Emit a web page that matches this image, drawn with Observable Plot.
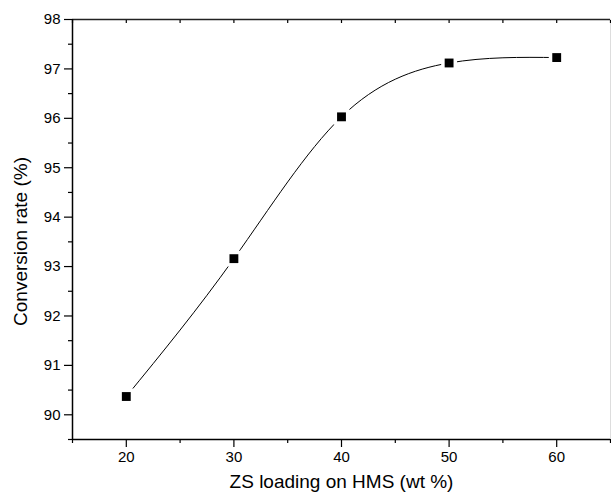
<!DOCTYPE html>
<html><head><meta charset="utf-8">
<script src="https://cdn.jsdelivr.net/npm/d3@7"></script>
<script src="https://cdn.jsdelivr.net/npm/@observablehq/plot@0.6"></script>
<style>body{margin:0;background:#fff;font-family:"Liberation Sans",Arial,sans-serif}</style>
</head><body><div id="chart"></div>
<script>
const loading = [20, 30, 40, 50, 60];
const conversion = [90.37, 93.16, 96.03, 97.12, 97.23];
const xTicks = [20, 30, 40, 50, 60];
const xMinor = [15, 25, 35, 45, 55, 65];
const yTicks = [90, 91, 92, 93, 94, 95, 96, 97, 98];
const yMinor = [89.5, 90.5, 91.5, 92.5, 93.5, 94.5, 95.5, 96.5, 97.5];
const data = loading.map((x, i) => ({x, y: conversion[i]}));

const chart = Plot.plot({
  width: 611, height: 497,
  marginLeft: 72, marginTop: 19, marginRight: 1, marginBottom: 58,
  style: {fontFamily: "Liberation Sans, Arial, sans-serif", fontSize: "15px", color: "#000", background: "#fff"},
  x: {domain: [15, 65]},
  y: {domain: [89.5, 98]},
  marks: [
    Plot.ruleY([98], {stroke: "#222", strokeWidth: 1.5}),
    Plot.ruleX([65], {stroke: "#ddd", strokeWidth: 1}),
    Plot.axisX({anchor: "top", ticks: xMinor.concat(xTicks), tickSize: -3, tickFormat: () => "", label: null, strokeWidth: 1.2}),
    Plot.axisX({ticks: xTicks, tickSize: 8, tickPadding: 4, fontSize: 15, label: null, strokeWidth: 1.2}),
    Plot.axisX({ticks: xMinor, tickSize: 4, tickFormat: () => "", label: null, strokeWidth: 1.2}),
    Plot.axisY({ticks: yTicks, tickSize: 8, tickPadding: 4, fontSize: 15, label: null, strokeWidth: 1.2}),
    Plot.axisY({ticks: yMinor, tickSize: 4, tickFormat: () => "", label: null, strokeWidth: 1.2}),
    Plot.ruleY([89.5], {stroke: "#000", strokeWidth: 1.5}),
    Plot.ruleX([15], {stroke: "#000", strokeWidth: 1.5}),
    Plot.line(data, {x: "x", y: "y", curve: "natural", stroke: "#000", strokeWidth: 1}),
    Plot.dot(data, {x: "x", y: "y", symbol: "square", r: 5, fill: "#000", stroke: "#fff", strokeWidth: 7, paintOrder: "stroke"}),
    Plot.text(["ZS loading on HMS (wt %)"], {frameAnchor: "bottom", dy: 48, fontSize: 19, fill: "#000"}),
    Plot.text(["Conversion rate (%)"], {frameAnchor: "left", textAnchor: "middle", dx: -52, dy: 12, rotate: -90, fontSize: 19, fill: "#000"})
  ]
});
document.getElementById("chart").append(chart);
</script></body></html>
